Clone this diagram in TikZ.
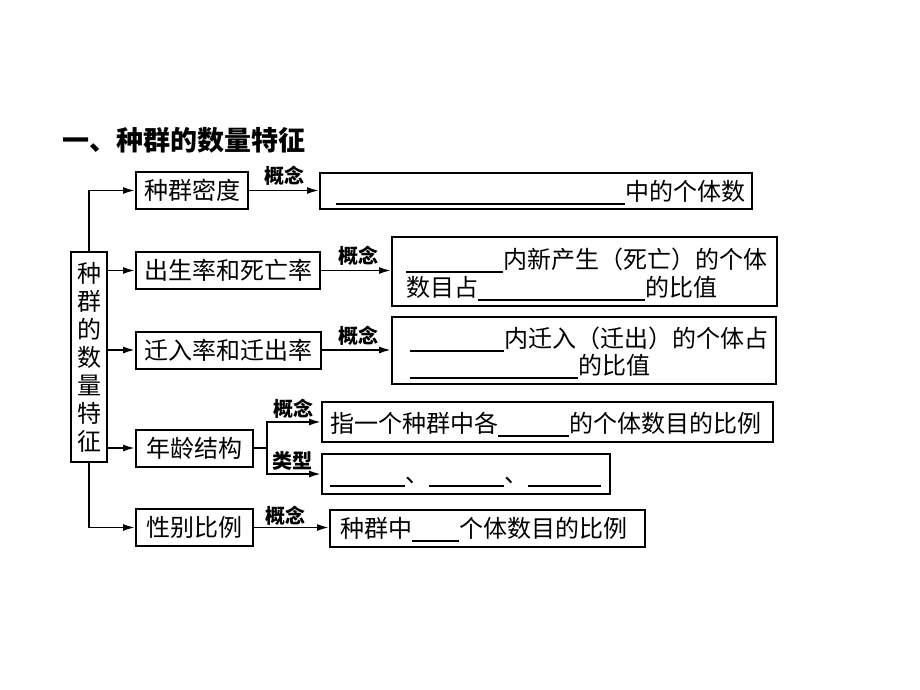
\documentclass[tikz,border=0pt]{standalone}
\usepackage{fontspec}
\newfontfamily\cjk{Noto Sans CJK SC}
\usetikzlibrary{arrows.meta}
\newcommand{\blank}[1]{\rule[-4.5pt]{#1pt}{1.4pt}}
\begin{document}
\begin{tikzpicture}[x=1pt,y=-1pt,
  box/.style={draw,line width=2pt,inner sep=0pt,font=\cjk\fontsize{24}{28}\selectfont},
  txt/.style={inner sep=0pt,anchor=base west,font=\cjk\fontsize{24}{28}\selectfont},
  lab/.style={inner sep=0pt,font=\cjk\bfseries\fontsize{20}{22}\selectfont},
  arr/.style={line width=1.8pt,-{Latex[length=12pt,width=7pt]}},
  ln/.style={line width=1.8pt}]
\useasboundingbox[fill=white] (0,0) rectangle (920,690);
% title
\node[inner sep=0pt,anchor=base west,font=\cjk\bfseries\fontsize{27}{30}\selectfont] (title) at (62,150) {一、种群的数量特征};
% left box
\node[box,minimum width=36,minimum height=210,align=center,font=\cjk\fontsize{24}{28}\selectfont] (L) at (89,357) {种\\群\\的\\数\\量\\特\\征};
% category boxes
\node[box,minimum width=112,minimum height=37] (b1) at (192,190.5) {种群密度};
\node[box,minimum width=184,minimum height=37] (b2) at (228,270.5) {出生率和死亡率};
\node[box,minimum width=185,minimum height=37] (b3) at (228.5,350) {迁入率和迁出率};
\node[box,minimum width=117,minimum height=37] (b4) at (194.5,448) {年龄结构};
\node[box,minimum width=117,minimum height=37] (b5) at (194.5,527.5) {性别比例};
% content boxes
\node[box,minimum width=432,minimum height=36] (c1) at (536,191) {};
\node[box,minimum width=385,minimum height=69] (c2) at (584.5,271.5) {};
\node[box,minimum width=384,minimum height=67] (c3) at (584,350.5) {};
\node[box,minimum width=451,minimum height=40] (c4a) at (547.5,422) {};
\node[box,minimum width=288,minimum height=40] (c4b) at (466,474) {};
\node[box,minimum width=315,minimum height=37] (c5) at (487.5,528) {};
% content texts
\node[txt] (t1) at (336,200) {\blank{289}中的个体数};
\node[txt] (t2a) at (406,268) {\blank{97}内新产生（死亡）的个体};
\node[txt] (t2b) at (406,296) {数目占\blank{167}的比值};
\node[txt] (t3a) at (410,347) {\blank{94}内迁入（迁出）的个体占};
\node[txt] (t3b) at (410,374) {\blank{168}的比值};
\node[txt] (t4a) at (330,432) {指一个种群中各\blank{71}的个体数目的比例};
\node[txt] (t4b) at (330,482) {\blank{75}、\blank{75}、\blank{73}};
\node[txt] (t5) at (340,537) {种群中\blank{47}个体数目的比例};
% labels
\node[lab] (l1) at (284,176) {概念};
\node[lab] (l2) at (358,256) {概念};
\node[lab] (l3) at (358,336) {概念};
\node[lab] (l4a) at (293,409) {概念};
\node[lab] (l4b) at (292,461) {类型};
\node[lab] (l5) at (285,516) {概念};
% connectors
\draw[arr] (L.north) |- (b1.west);
\draw[arr] (b2.west -| L.east) -- (b2.west);
\draw[arr] (b3.west -| L.east) -- (b3.west);
\draw[arr] (b4.west -| L.east) -- (b4.west);
\draw[arr] (L.south) |- (b5.west);
\draw[arr] (b1.east) -- (b1.east -| c1.west);
\draw[arr] (b2.east) -- (b2.east -| c2.west);
\draw[arr] (b3.east) -- (b3.east -| c3.west);
\coordinate (j) at (267,448);
\draw[ln] (b4.east) -- (j);
\draw[arr] (j) |- (c4a.west);
\draw[arr] (j) |- (c4b.west);
\draw[arr] (b5.east) -- (b5.east -| c5.west);
\end{tikzpicture}
\end{document}
